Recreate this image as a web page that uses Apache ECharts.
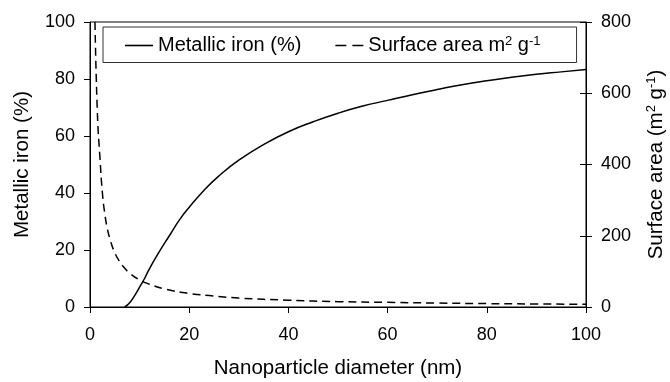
<!DOCTYPE html>
<html><head><meta charset="utf-8">
<script src="https://cdn.jsdelivr.net/npm/echarts@6/dist/echarts.min.js"></script>
<style>html,body{margin:0;padding:0;background:#fff}#c{width:670px;height:382px}</style>
</head><body><div id="c"></div>
<script>
var ironDiameter = [7, 8, 9, 10, 11, 12, 14, 16, 18, 20, 23, 26, 30, 35, 40, 45, 50, 55, 60, 65, 70, 75, 80, 85, 90, 95, 100];
var ironPercent  = [0, 1.5, 4, 7, 10, 13.5, 19.5, 25, 30.5, 35, 41, 46, 51.5, 57, 61.5, 65, 68, 70.5, 72.5, 74.5, 76.3, 78, 79.4, 80.6, 81.7, 82.5, 83.3];
var saDiameter = [1, 1.5, 2, 2.5, 3, 3.5, 4, 5, 6, 7, 8, 10, 12, 15, 20, 25, 30, 40, 50, 60, 70, 80, 90, 100];
var saValues   = [800, 540, 420, 320, 260, 220, 192, 152, 127, 109, 95, 76, 64, 51, 38, 31, 25, 19, 15, 13, 11, 9.5, 8.5, 7.6];
var xTicks = [0, 20, 40, 60, 80, 100];

function pairs(xs, ys){ return xs.map(function(x,i){ return [x, ys[i]]; }); }

var FONT = '"Liberation Sans", Arial, sans-serif';
var chart = echarts.init(document.getElementById('c'));
chart.setOption({
  animation: false,
  textStyle: { fontFamily: FONT, color: '#000' },
  grid: { left: 90, right: 84, top: 22, bottom: 75, show: true, borderColor: '#000', borderWidth: 1,
          containLabel: false, outerBoundsMode: 'none' },
  legend: {
    left: 103, top: 27,
    padding: [8, 36, 7, 22],
    borderColor: '#333', borderWidth: 1,
    itemGap: 34, itemWidth: 28, itemHeight: 1.6, symbolKeepAspect: false,
    textStyle: {
      fontFamily: FONT, fontSize: 20, color: '#000',
      rich: {
        n: { fontFamily: FONT, fontSize: 20, color: '#000', lineHeight: 21 },
        s: { fontFamily: FONT, fontSize: 13, color: '#000', verticalAlign: 'top', lineHeight: 12 }
      }
    },
    formatter: function(name){
      if (name === 'sa') return '{n|Surface area m}{s|2}{n| g}{s|-1}';
      return '{n|Metallic iron (%)}';
    },
    data: [
      { name: 'iron', icon: 'path://M0,0H28V2H0Z' },
      { name: 'sa', icon: 'path://M0,0H11V2H0Z M17,0H28V2H17Z' }
    ]
  },
  xAxis: {
    type: 'value', min: 0, max: 100, interval: 20,
    name: 'Nanoparticle diameter (nm)', nameLocation: 'middle', nameGap: 51,
    nameTextStyle: { fontSize: 20.5, color: '#000', fontFamily: FONT },
    axisLine: { lineStyle: { color: '#000', width: 1 } },
    axisTick: { show: true, length: 6, lineStyle: { color: '#000' } },
    axisLabel: { fontSize: 18, color: '#000', margin: 19, fontFamily: FONT,
      formatter: function(v){ return xTicks.indexOf(v) >= 0 ? String(v) : ''; } },
    splitLine: { show: false }
  },
  yAxis: [{
    type: 'value', min: 0, max: 100, interval: 20, position: 'left',
    name: 'Metallic iron (%)', nameLocation: 'middle', nameGap: 57, nameRotate: 90,
    nameTextStyle: { fontSize: 20.5, color: '#000', fontFamily: FONT },
    axisLine: { show: true, lineStyle: { color: '#000', width: 1 } },
    axisTick: { show: true, length: 6, lineStyle: { color: '#000' } },
    axisLabel: { fontSize: 18, color: '#000', margin: 15, fontFamily: FONT },
    splitLine: { show: false }
  }, {
    type: 'value', min: 0, max: 800, interval: 200, position: 'right',
    name: '{n|Surface area (m}{s|2}{n| g}{s|-1}{n|)}', nameLocation: 'middle', nameGap: 59, nameRotate: 90,
    nameTextStyle: { fontSize: 20.5, color: '#000', fontFamily: FONT,
      rich: {
        n: { fontFamily: FONT, fontSize: 20.5, color: '#000', lineHeight: 22 },
        s: { fontFamily: FONT, fontSize: 13, color: '#000', verticalAlign: 'top', lineHeight: 12 }
      } },
    axisLine: { show: true, lineStyle: { color: '#000', width: 1 } },
    axisTick: { show: true, length: 6, lineStyle: { color: '#000' } },
    axisLabel: { fontSize: 18, color: '#000', margin: 15, fontFamily: FONT },
    splitLine: { show: false }
  }, {
    type: 'value', min: 0, max: 800, interval: 200, position: 'right',
    axisLine: { show: false },
    axisTick: { show: true, inside: true, length: 6, lineStyle: { color: '#000' } },
    axisLabel: { show: false },
    splitLine: { show: false }
  }],
  series: [{
    name: 'iron', type: 'line', yAxisIndex: 0, smooth: true, symbol: 'none',
    lineStyle: { color: '#000', width: 1.5, type: 'solid' },
    itemStyle: { color: '#000' },
    data: pairs(ironDiameter, ironPercent)
  }, {
    name: 'sa', type: 'line', yAxisIndex: 1, smooth: true, symbol: 'none', clip: true,
    lineStyle: { color: '#000', width: 1.5, type: [8, 5] },
    itemStyle: { color: '#000' },
    data: pairs(saDiameter, saValues)
  }]
});
</script></body></html>
